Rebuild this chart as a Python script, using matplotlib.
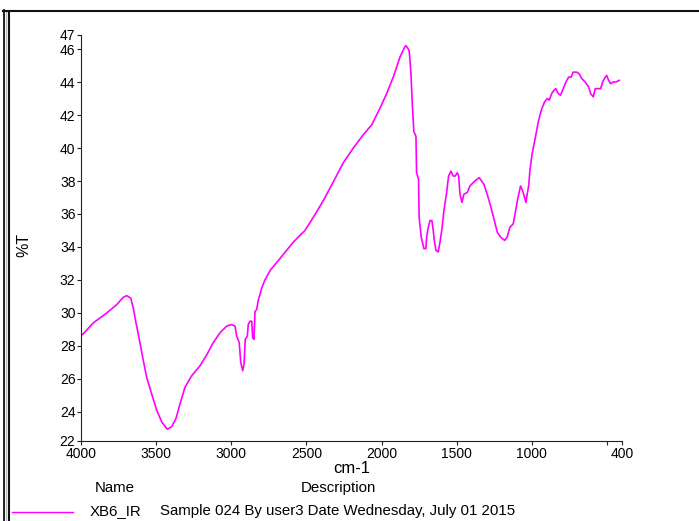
import matplotlib
matplotlib.use("Agg")
import matplotlib.pyplot as plt
from matplotlib.lines import Line2D

plt.rcParams['font.family'] = ['Liberation Sans', 'DejaVu Sans']

# IR spectrum of sample XB6 (wavenumber in cm-1, transmittance in %)
wavenumber = [4000, 3989, 3918, 3829, 3763, 3719, 3696, 3669, 3652, 3634,
              3612, 3585, 3563, 3530, 3496, 3463, 3426, 3397, 3368, 3341,
              3308, 3263, 3208, 3164, 3120, 3075, 3031, 2997, 2975, 2964,
              2947, 2937, 2924, 2915, 2907, 2893, 2887, 2876, 2864, 2858,
              2849, 2842, 2831, 2820, 2809, 2798, 2776, 2740, 2676, 2587,
              2510, 2454, 2388, 2321, 2255, 2188, 2122, 2066, 2011, 1966,
              1922, 1878, 1844, 1838, 1822, 1816, 1805, 1795, 1785, 1771,
              1767, 1754, 1750, 1736, 1718, 1705, 1700, 1689, 1678, 1665,
              1656, 1649, 1638, 1623, 1611, 1598, 1585, 1567, 1554, 1538,
              1523, 1510, 1496, 1487, 1478, 1465, 1452, 1430, 1412, 1379,
              1350, 1319, 1297, 1275, 1252, 1230, 1208, 1181, 1164, 1146,
              1124, 1110, 1092, 1075, 1061, 1048, 1039, 1031, 1021, 1013,
              999, 986, 973, 959, 946, 933, 915, 897, 884, 868,
              853, 840, 825, 809, 791, 773, 755, 738, 725, 702,
              685, 667, 645, 622, 609, 591, 578, 555, 542, 529,
              511, 502, 489, 476, 458, 440, 418]

transmittance = [28.65, 28.7, 29.4, 30.0, 30.5, 30.95, 31.05, 30.9, 30.3, 29.4,
                 28.4, 27.1, 26.1, 25.1, 24.1, 23.4, 22.95, 23.1, 23.6, 24.5,
                 25.5, 26.2, 26.8, 27.45, 28.2, 28.8, 29.2, 29.3, 29.2, 28.6,
                 28.2, 27.0, 26.5, 26.9, 28.4, 28.6, 29.3, 29.5, 29.5, 28.5,
                 28.4, 30.1, 30.2, 30.8, 31.1, 31.5, 32.0, 32.6, 33.3, 34.3,
                 35.0, 35.8, 36.8, 37.95, 39.1, 40.0, 40.8, 41.4, 42.4, 43.3,
                 44.3, 45.5, 46.15, 46.2, 46.0, 45.9, 44.6, 42.6, 41.0, 40.7,
                 38.5, 38.1, 35.8, 34.6, 33.9, 33.9, 34.6, 35.2, 35.6, 35.6,
                 35.0, 34.4, 33.8, 33.7, 34.3, 35.1, 36.2, 37.3, 38.3, 38.6,
                 38.3, 38.3, 38.5, 38.3, 37.2, 36.7, 37.2, 37.3, 37.7, 38.0,
                 38.2, 37.8, 37.2, 36.5, 35.7, 34.9, 34.6, 34.4, 34.6, 35.2,
                 35.4, 36.1, 37.0, 37.7, 37.4, 37.0, 36.7, 37.2, 37.7, 38.6,
                 39.6, 40.2, 40.8, 41.5, 42.0, 42.4, 42.8, 43.0, 42.9, 43.3,
                 43.5, 43.6, 43.3, 43.2, 43.6, 44.0, 44.3, 44.3, 44.6, 44.6,
                 44.5, 44.2, 44.0, 43.7, 43.3, 43.1, 43.6, 43.6, 43.6, 44.0,
                 44.3, 44.4, 44.1, 43.9, 44.0, 44.0, 44.1]

x_limits = (4000, 400)
y_limits = (22.24, 46.85)
x_ticks = [4000, 3500, 3000, 2500, 2000, 1500, 1000, 500, 400]
x_tick_labels = ['4000', '3500', '3000', '2500', '2000', '1500', '1000', '', '400']
y_ticks = [22.24, 24, 26, 28, 30, 32, 34, 36, 38, 40, 42, 44, 46, 46.85]
y_tick_labels = ['22', '24', '26', '28', '30', '32', '34', '36', '38', '40',
                 '42', '44', '46', '47']

sample_name = 'XB6_IR'
sample_desc = 'Sample 024 By user3 Date Wednesday, July 01 2015'
line_color = '#ff00ff'

W, H = 699, 521
fig = plt.figure(figsize=(W / 100, H / 100), dpi=100)
fig.patch.set_facecolor('white')

# plot area in pixel terms
left, right, top, bottom = 81, 622, 35, 441
ax = fig.add_axes([left / W, 1 - bottom / H, (right - left) / W, (bottom - top) / H])

ax.plot(wavenumber, transmittance, color=line_color, linewidth=1.2)
ax.set_xlim(*x_limits)
ax.set_ylim(*y_limits)

ax.set_xticks(x_ticks)
ax.set_xticklabels(x_tick_labels)
ax.set_yticks(y_ticks)
ax.set_yticklabels(y_tick_labels)
ax.tick_params(axis='both', labelsize=10, length=3, width=0.8, color='#222222',
               direction='out', pad=1)

for side in ('top', 'right'):
    ax.spines[side].set_visible(False)
for side in ('left', 'bottom'):
    ax.spines[side].set_color('#222222')
    ax.spines[side].set_linewidth(0.8)

ax.set_xlabel('cm-1', fontsize=12, labelpad=0)
fig.text(24 / W, 1 - 245 / H, '%T', rotation=90, fontsize=11.5, ha='center', va='center')

# legend block under the plot
fig.text(115 / W, 1 - 488 / H, 'Name', fontsize=10.8, ha='center', va='center')
fig.text(338 / W, 1 - 488 / H, 'Description', fontsize=10.8, ha='center', va='center')
fig.add_artist(Line2D([12 / W, 73 / W], [1 - 512 / H, 1 - 512 / H],
                      color=line_color, linewidth=1.0, transform=fig.transFigure))
fig.text(90 / W, 1 - 511 / H, sample_name, fontsize=10.8, ha='left', va='center')
fig.text(160 / W, 1 - 511 / H, sample_desc, fontsize=10.8, ha='left', va='center')

# window frame
fig.add_artist(Line2D([4 / W, 4 / W], [0, 1 - 10 / H], color='#111111',
                      linewidth=1.3, transform=fig.transFigure))
fig.add_artist(Line2D([6 / W, 6 / W], [0, 1 - 10 / H], color='#bbbbbb',
                      linewidth=1.0, transform=fig.transFigure))
fig.add_artist(Line2D([8.5 / W, 8.5 / W], [0, 1 - 11 / H], color='#111111',
                      linewidth=1.5, transform=fig.transFigure))
fig.add_artist(Line2D([3 / W, 1], [1 - 11 / H, 1 - 11 / H], color='#111111',
                      linewidth=1.5, transform=fig.transFigure))

fig.savefig('out.png', dpi=100)
